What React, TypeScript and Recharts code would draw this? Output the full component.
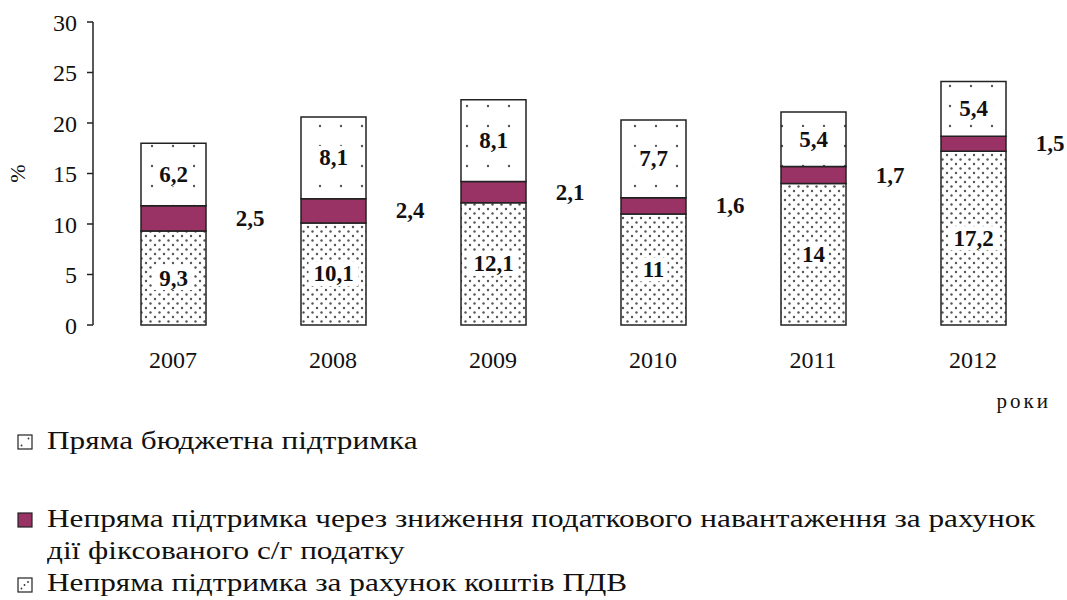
import React from 'react';
import { BarChart, Bar, XAxis, YAxis, LabelList, Label } from 'recharts';

const years = ['2007', '2008', '2009', '2010', '2011', '2012'];
const vatSupport = [9.3, 10.1, 12.1, 11, 14, 17.2];
const fixedTaxSupport = [2.5, 2.4, 2.1, 1.6, 1.7, 1.5];
const directSupport = [6.2, 8.1, 8.1, 7.7, 5.4, 5.4];
const yTicks = [0, 5, 10, 15, 20, 25, 30];
const boundaryTicks = [0, 1, 2, 3, 4, 5, 6];

const seriesNames = {
  direct: 'Пряма бюджетна підтримка',
  fixedTax: 'Непряма підтримка через зниження податкового навантаження за рахунок дії фіксованого с/г податку',
  fixedTaxLine1: 'Непряма підтримка через зниження податкового навантаження за рахунок',
  fixedTaxLine2: 'дії фіксованого с/г податку',
  vat: 'Непряма підтримка за рахунок коштів ПДВ',
};

const data = years.map((y, i) => ({
  year: y,
  vat: vatSupport[i],
  fixedTax: fixedTaxSupport[i],
  direct: directSupport[i],
}));

const FONT = 'Liberation Serif';
const MAGENTA = '#993366';

const fmt = (v: any) => String(v).replace('.', ',');

const InsideLabel = (props: any) => {
  const { x, y, width, height, value } = props;
  const cx = Number(x) + Number(width) / 2;
  const cy = Number(y) + Number(height) / 2;
  const t = fmt(value);
  const w = t.length * 11 + 6;
  return (
    <g>
      <rect x={cx - w / 2} y={cy - 12} width={w} height={24} fill="#fff" />
      <text x={cx} y={cy} textAnchor="middle" dominantBaseline="central" fontFamily={FONT} fontWeight="bold" fontSize={23} fill="#111">
        {t}
      </text>
    </g>
  );
};

const SideLabel = (props: any) => {
  const { x, y, width, height, value } = props;
  const cx = Number(x) + Number(width) + 44;
  const cy = Number(y) + Number(height) / 2;
  return (
    <text x={cx} y={cy} textAnchor="middle" dominantBaseline="central" fontFamily={FONT} fontWeight="bold" fontSize={23} fill="#111">
      {fmt(value)}
    </text>
  );
};

const Icon = ({ kind }: { kind: string }) => (
  <svg width={16} height={16} style={{ position: 'absolute', left: 0, top: 0 }}>
    {kind === 'fixed' ? (
      <rect x={1} y={1} width={14} height={14} fill={MAGENTA} stroke="#222" strokeWidth={1.2} />
    ) : (
      <g>
        <rect x={1} y={1} width={14} height={14} fill="#fff" stroke="#222" strokeWidth={1.2} />
        <circle cx={4.5} cy={11.5} r={0.9} fill="#333" />
        {kind === 'vat' && <circle cx={11} cy={5} r={0.9} fill="#333" />}
        {kind === 'vat' && <circle cx={7.5} cy={8} r={0.9} fill="#333" />}
        {kind === 'direct' && <circle cx={11.5} cy={4.5} r={0.9} fill="#333" />}
      </g>
    )}
  </svg>
);

const legendText: React.CSSProperties = {
  position: 'absolute',
  fontFamily: FONT,
  fontSize: 25,
  lineHeight: '32px',
  color: '#111',
  whiteSpace: 'nowrap',
  transform: 'scaleX(1.25)',
  transformOrigin: 'left center',
};

export default function App() {
  return (
    <div style={{ position: 'absolute', left: 0, top: 0, width: 1067, height: 600, background: '#fff', fontFamily: FONT }}>
      <BarChart width={1067} height={420} data={data} margin={{ top: 22, right: 14, left: 0, bottom: 10 }} barSize={65}>
        <defs>
          <pattern id="denseDots" width={9} height={9} patternUnits="userSpaceOnUse">
            <rect width={9} height={9} fill="#fff" />
            <circle cx={2} cy={2} r={1.2} fill="#555" />
            <circle cx={6.5} cy={6.5} r={1.2} fill="#555" />
          </pattern>
          <pattern id="sparseDots" width={21} height={20} patternUnits="userSpaceOnUse">
            <rect width={21} height={20} fill="#fff" />
            <circle cx={5} cy={6} r={1.2} fill="#555" />
          </pattern>
        </defs>
        <XAxis
          dataKey="year"
          height={85}
          axisLine={false}
          tickLine={false}
          tickMargin={20}
          tick={{ fontFamily: FONT, fontSize: 24, fill: '#111' }}
        >
          <Label value="роки" position="insideBottomRight" offset={2} style={{ fontFamily: FONT, fontSize: 21, fill: '#111', letterSpacing: 3 }} />
        </XAxis>
        <XAxis
          xAxisId="grid"
          type="number"
          domain={[0, 6]}
          ticks={boundaryTicks}
          height={0}
          tick={false}
          tickSize={8}
          axisLine={{ stroke: '#222', strokeWidth: 1.5 }}
          tickLine={{ stroke: '#222', strokeWidth: 1.5 }}
        />
        <YAxis
          width={93}
          domain={[0, 30]}
          ticks={yTicks}
          interval={0}
          tickSize={6}
          tickMargin={10}
          axisLine={{ stroke: '#222', strokeWidth: 1.5 }}
          tickLine={{ stroke: '#222', strokeWidth: 1.5 }}
          tick={{ fontFamily: FONT, fontSize: 24, fill: '#111' }}
        >
          <Label value="%" angle={-90} position="insideLeft" offset={17} style={{ fontFamily: FONT, fontSize: 22, fill: '#111', textAnchor: 'middle' }} />
        </YAxis>
        <Bar dataKey="vat" name={seriesNames.vat} stackId="s" fill="url(#denseDots)" stroke="#222" strokeWidth={1.5} isAnimationActive={false}>
          <LabelList dataKey="vat" content={InsideLabel} />
        </Bar>
        <Bar dataKey="fixedTax" name={seriesNames.fixedTax} stackId="s" fill={MAGENTA} stroke="#222" strokeWidth={1.5} isAnimationActive={false}>
          <LabelList dataKey="fixedTax" content={SideLabel} />
        </Bar>
        <Bar dataKey="direct" name={seriesNames.direct} stackId="s" fill="url(#sparseDots)" stroke="#222" strokeWidth={1.5} isAnimationActive={false}>
          <LabelList dataKey="direct" content={InsideLabel} />
        </Bar>
      </BarChart>
      <div style={{ position: 'absolute', left: 17, top: 434, width: 16, height: 16 }}><Icon kind="direct" /></div>
      <div style={{ ...legendText, left: 47, top: 425 }}>{seriesNames.direct}</div>
      <div style={{ position: 'absolute', left: 17, top: 512, width: 16, height: 16 }}><Icon kind="fixed" /></div>
      <div style={{ ...legendText, left: 47, top: 503 }}>{seriesNames.fixedTaxLine1}</div>
      <div style={{ ...legendText, left: 47, top: 535 }}>{seriesNames.fixedTaxLine2}</div>
      <div style={{ position: 'absolute', left: 17, top: 577, width: 16, height: 16 }}><Icon kind="vat" /></div>
      <div style={{ ...legendText, left: 47, top: 567 }}>{seriesNames.vat}</div>
    </div>
  );
}
